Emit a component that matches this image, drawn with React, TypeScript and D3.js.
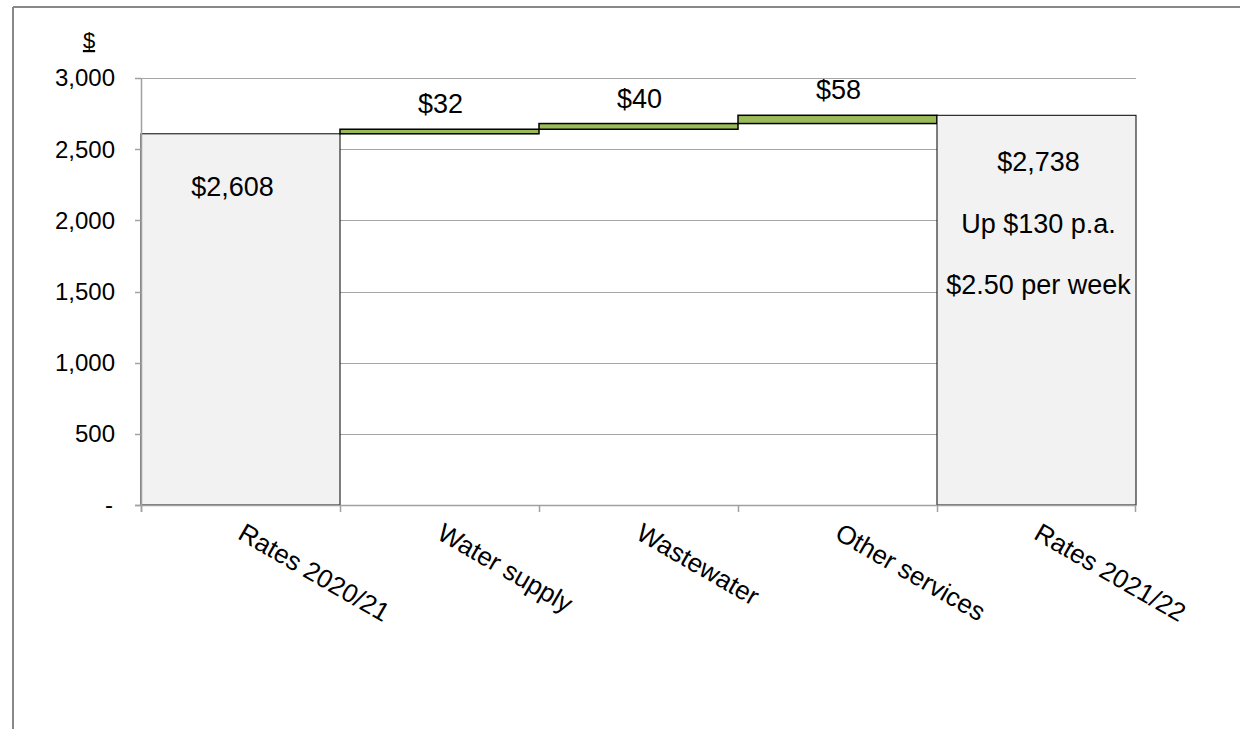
import React from "react";
import * as d3 from "d3";

const categories = ["Rates 2020/21", "Water supply", "Wastewater", "Other services", "Rates 2021/22"];
const values = [2608, 32, 40, 58, 2738];
const isTotal = [true, false, false, false, true];
const valueLabels = ["$2,608", "$32", "$40", "$58", "$2,738"];
const totalNotes = ["Up $130 p.a.", "$2.50 per week"];
const yTicks = [0, 500, 1000, 1500, 2000, 2500, 3000];

const W = 1240;
const H = 729;
const left = 141;
const right = 1136;
const top = 78;
const bottom = 505;
const FONT = "'Liberation Sans', Arial, sans-serif";

export default function App() {
  const x = d3.scaleBand<string>().domain(categories).range([left, right]).padding(0);
  const y = d3.scaleLinear().domain([0, 3000]).range([bottom, top]);
  const fmt = (v: number) => (v === 0 ? "-" : d3.format(",")(v));

  let run = 0;
  const bars = categories.map((c, i) => {
    let y0: number, y1: number;
    if (isTotal[i]) {
      y0 = 0;
      y1 = values[i];
      run = values[i];
    } else {
      y0 = run;
      y1 = run + values[i];
      run = y1;
    }
    return { c, i, y0, y1 };
  });

  const bw = x.bandwidth();

  return (
    <svg
      width={W}
      height={H}
      style={{ position: "absolute", left: 0, top: 0, display: "block", background: "#fff" }}
      fontFamily={FONT}
    >
      {/* frame */}
      <line x1={13} y1={7} x2={W} y2={7} stroke="#888" strokeWidth={2} />
      <line x1={13} y1={7} x2={13} y2={H} stroke="#888" strokeWidth={2} />

      {/* gridlines */}
      {yTicks.filter((t) => t > 0).map((t) => (
        <line key={t} x1={left} x2={right} y1={Math.round(y(t)) + 0.5} y2={Math.round(y(t)) + 0.5} stroke="#a6a6a6" strokeWidth={1} />
      ))}

      {/* bars */}
      {bars.map((b) => (
        <rect
          key={b.c}
          x={x(b.c)!}
          y={y(b.y1)}
          width={bw}
          height={y(b.y0) - y(b.y1)}
          fill={isTotal[b.i] ? "#f2f2f2" : "#9bbb59"}
          stroke="#000"
          strokeWidth={isTotal[b.i] ? 1 : 1.5}
        />
      ))}

      {/* axes */}
      <line x1={left + 0.5} x2={left + 0.5} y1={top} y2={bottom + 7} stroke="#a0a0a0" strokeWidth={1.5} />
      <line x1={left - 6} x2={right} y1={bottom + 0.5} y2={bottom + 0.5} stroke="#a0a0a0" strokeWidth={1.5} />
      {yTicks.map((t) => (
        <g key={t}>
          <line x1={left - 6} x2={left} y1={Math.round(y(t)) + 0.5} y2={Math.round(y(t)) + 0.5} stroke="#a0a0a0" strokeWidth={1.5} />
          <text x={t === 0 ? 113 : 115} y={y(t)} dy="0.35em" textAnchor="end" fontSize={24} fill="#000">
            {fmt(t)}
          </text>
        </g>
      ))}
      {categories.map((c) => (
        <line key={c} x1={x(c)! + 0.5} x2={x(c)! + 0.5} y1={bottom} y2={bottom + 7} stroke="#a0a0a0" strokeWidth={1.5} />
      ))}
      <line x1={right - 0.5} x2={right - 0.5} y1={bottom} y2={bottom + 7} stroke="#a0a0a0" strokeWidth={1.5} />

      {/* y unit label */}
      <text x={89} y={48} textAnchor="middle" fontSize={22} textDecoration="underline" fill="#000">$</text>

      {/* x labels */}
      {categories.map((c) => {
        const cx = x(c)! + bw / 2 - 4;
        const cy = 538;
        return (
          <text key={c} x={cx} y={cy} fontSize={26} fill="#000" transform={`rotate(30, ${cx}, ${cy})`}>
            {c}
          </text>
        );
      })}

      {/* value labels */}
      {bars.map((b) => {
        const cx = x(b.c)! + bw / 2;
        if (isTotal[b.i]) {
          const first = b.i === 0;
          const base = first ? y(b.y1) + 62 : y(b.y1) + 56;
          return (
            <g key={b.c}>
              <text x={first ? cx - 8 : cx + 2} y={base} textAnchor="middle" fontSize={27} fill="#000">{valueLabels[b.i]}</text>
              {!first &&
                totalNotes.map((n, k) => (
                  <text key={n} x={cx + 2} y={base + 61.5 * (k + 1)} textAnchor="middle" fontSize={27} fill="#000">{n}</text>
                ))}
            </g>
          );
        }
        return (
          <text key={b.c} x={cx + 1} y={y(b.y1) - 16} textAnchor="middle" fontSize={27} fill="#000">{valueLabels[b.i]}</text>
        );
      })}
    </svg>
  );
}
